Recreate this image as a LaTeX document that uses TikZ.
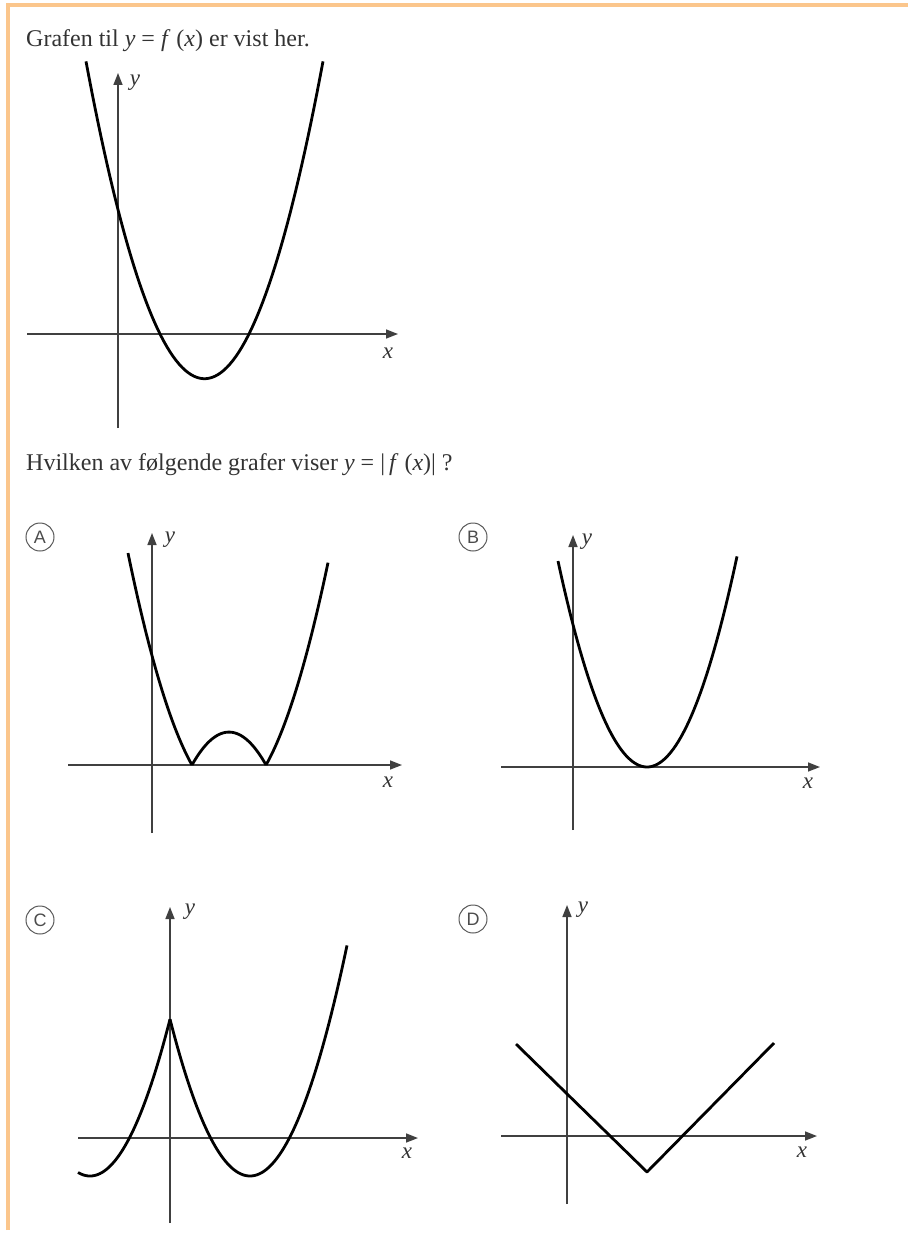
\documentclass[tikz,border=0pt]{standalone}
\usepackage{fontspec}
\setmainfont{Liberation Serif}
\setsansfont{Liberation Sans}
\usetikzlibrary{arrows.meta}
\definecolor{framecol}{HTML}{FBC68C}

\begin{document}
\begin{tikzpicture}[x=1pt,y=1pt,
  axis/.style={line width=1.5pt,draw=black!75,-{Triangle[length=12pt,width=9pt]}},
  graph/.style={line width=2.8pt,line join=round,samples=80},
  opt/.style={circle,draw=black!65,line width=1pt,inner sep=0pt,minimum size=28pt,
    font=\sffamily\fontsize{18}{18}\selectfont,text=black!70},
  lbl/.style={font=\fontsize{23}{23}\selectfont\itshape,text=black!80},
  txt/.style={anchor=base west,inner sep=0pt,font=\fontsize{24}{28}\selectfont,text=black!80}]
\useasboundingbox (0,0) rectangle (908,-1233);
% frame
\draw[framecol,line width=3.5pt] (8,-1230) -- (8,-5) -- (908,-5);

\node[txt](q1) at (26,-47){Grafen til \textit{y} = \textit{f} (\textit{x}) er vist her.};
\node[txt](q2) at (26,-470){Hvilken av følgende grafer viser \textit{y} = |\,\textit{f} (\textit{x})| ?};

% f(x)
\begin{scope}[shift={(118,-334)}]
\draw[axis] (-91,0) -- (280,0);
\draw[axis] (0,-94) -- (0,261);
\node[lbl](x0) at (270,-19){x};
\node[lbl](y0) at (17,251){y};
\draw[graph,domain=-32:205] plot (\x,{0.0226*(\x-86.5)*(\x-86.5)-44.7});
\end{scope}

% A
\node[opt](optA) at (40,-537){A};
\begin{scope}[shift={(152,-765)}]
\draw[axis] (-84,0) -- (250,0);
\draw[axis] (0,-68) -- (0,232);
\node[lbl](xA) at (236,-17){x};
\node[lbl](yA) at (18,225){y};
\draw[graph,domain=-24:40] plot (\x,{0.024*(\x-77)*(\x-77)-32.9});
\draw[graph,domain=40:114] plot (\x,{32.9-0.024*(\x-77)*(\x-77)});
\draw[graph,domain=114:176] plot (\x,{0.024*(\x-77)*(\x-77)-32.9});
\end{scope}

% B
\node[opt](optB) at (473,-537){B};
\begin{scope}[shift={(573,-767)}]
\draw[axis] (-72,0) -- (247,0);
\draw[axis] (0,-63) -- (0,232);
\node[lbl](xB) at (235,-16){x};
\node[lbl](yB) at (14,225){y};
\draw[graph,domain=-15:164] plot (\x,{0.026*(\x-74)*(\x-74)});
\end{scope}

% C
\node[opt](optC) at (40,-920){C};
\begin{scope}[shift={(170,-1138)}]
\draw[axis] (-92,0) -- (248,0);
\draw[axis] (0,-85) -- (0,231);
\node[lbl](xC) at (237,-15){x};
\node[lbl](yC) at (20,226){y};
\draw[graph,domain=-92:0] plot (\x,{0.0245*(\x+80)*(\x+80)-38});
\draw[graph,domain=0:177] plot (\x,{0.0245*(\x-80)*(\x-80)-38});
\end{scope}

% D
\node[opt](optD) at (473,-919){D};
\begin{scope}[shift={(567,-1136)}]
\draw[axis] (-66,0) -- (250,0);
\draw[axis] (0,-68) -- (0,231);
\node[lbl](xD) at (235,-16){x};
\node[lbl](yD) at (16,226){y};
\coordinate (dl) at (-51,92);
\coordinate (dm) at (80,-36);
\coordinate (dr) at (207,93);
\draw[graph] (dl) -- (dm) -- (dr);
\end{scope}
\end{tikzpicture}
\end{document}
